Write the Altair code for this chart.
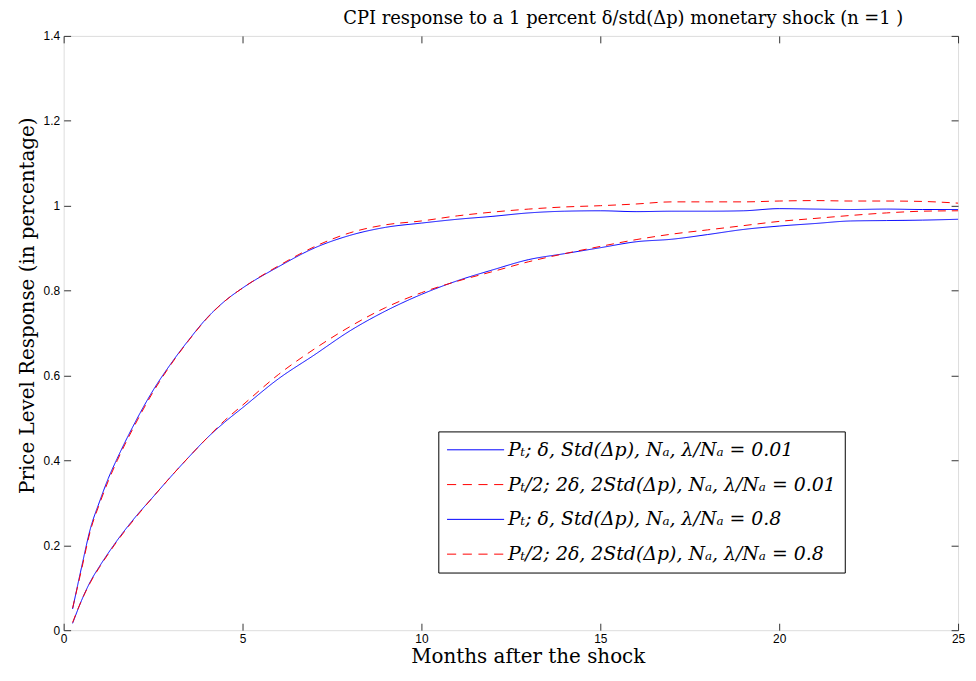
import altair as alt
import pandas as pd

months = [0.25, 0.5, 0.75, 1, 1.25, 1.5, 2, 2.5, 3, 3.5, 4, 4.5, 5, 6, 7, 8, 9, 10,
          11, 12, 13, 14, 15, 16, 17, 18, 19, 20, 21, 22, 23, 24, 25]

# slow-adjusting pair
blue_001 = [0.016, 0.070, 0.115, 0.150, 0.182, 0.212, 0.266, 0.314, 0.362, 0.408, 0.452,
            0.490, 0.524, 0.592, 0.648, 0.705, 0.752, 0.791, 0.823, 0.849, 0.873, 0.887,
            0.901, 0.915, 0.921, 0.932, 0.944, 0.952, 0.958, 0.964, 0.965, 0.966, 0.968]
red_001 = [0.018, 0.070, 0.113, 0.148, 0.180, 0.210, 0.264, 0.314, 0.362, 0.408, 0.452,
           0.494, 0.530, 0.602, 0.662, 0.715, 0.760, 0.795, 0.822, 0.845, 0.868, 0.887,
           0.904, 0.920, 0.933, 0.943, 0.953, 0.963, 0.970, 0.977, 0.983, 0.987, 0.988]
# fast-adjusting pair
blue_08 = [0.050, 0.148, 0.240, 0.302, 0.358, 0.405, 0.490, 0.565, 0.628, 0.684, 0.735,
           0.775, 0.806, 0.856, 0.900, 0.930, 0.949, 0.959, 0.968, 0.975, 0.983, 0.987,
           0.988, 0.986, 0.987, 0.987, 0.988, 0.993, 0.992, 0.991, 0.992, 0.991, 0.991]
red_08 = [0.052, 0.143, 0.235, 0.297, 0.352, 0.400, 0.485, 0.561, 0.626, 0.683, 0.734,
          0.775, 0.806, 0.858, 0.903, 0.936, 0.955, 0.964, 0.976, 0.985, 0.992, 0.997,
          1.000, 1.004, 1.009, 1.009, 1.009, 1.011, 1.012, 1.011, 1.011, 1.010, 1.006]

labels = [
    "Pₜ; δ, Std(Δp), Nₐ, λ/Nₐ = 0.01",
    "Pₜ/2; 2δ, 2Std(Δp), Nₐ, λ/Nₐ = 0.01",
    "Pₜ; δ, Std(Δp), Nₐ, λ/Nₐ = 0.8",
    "Pₜ/2; 2δ, 2Std(Δp), Nₐ, λ/Nₐ = 0.8",
]
series_values = [blue_001, red_001, blue_08, red_08]
colors = ["#0000ff", "#ff0000", "#0000ff", "#ff0000"]
dashes = [[1, 0], [8, 6], [1, 0], [8, 6]]

# legend key glyphs (unit-box paths): solid line and dashed line
solid_key = "M-1,0H1"
dashed_key = "M-1,0H-0.68M-0.45,0H-0.13M0.1,0H0.42M0.65,0H0.97"
legend_keys = [solid_key, dashed_key, solid_key, dashed_key]

x_ticks = [0, 5, 10, 15, 20, 25]
y_ticks = [0, 0.2, 0.4, 0.6, 0.8, 1.0, 1.2, 1.4]

rows = []
for lab, vals in zip(labels, series_values):
    for m, v in zip(months, vals):
        rows.append({"month": m, "value": v, "series": lab})
df = pd.DataFrame(rows)

xscale = alt.Scale(domain=[0, 25], nice=False, zero=False)
yscale = alt.Scale(domain=[0, 1.4], nice=False)
cscale = alt.Scale(domain=labels, range=colors)

serif = "DejaVu Serif"
sans = "Liberation Sans"

main_x = alt.Axis(values=x_ticks, tickSize=0, labelPadding=3, labelFont=sans,
                  labelFontSize=12, labelColor="black", domain=False,
                  grid=False, title="Months after the shock", titleFont=serif,
                  titleFontSize=20, titleFontWeight="normal", titleColor="black",
                  titlePadding=3, titleX=467, labelFlush=False)
main_y = alt.Axis(values=y_ticks, tickSize=0, labelPadding=4, labelFont=sans,
                  labelFontSize=12, labelColor="black", domain=False,
                  grid=False, format="~g", title="Price Level Response (in percentage)",
                  titleFont=serif, titleFontSize=20, titleFontWeight="normal",
                  titleColor="black", titlePadding=6, titleY=271, labelFlush=False)

legend = alt.Legend(title=None, orient="none", legendX=377, legendY=398,
                    symbolSize=3300, symbolStrokeWidth=1, symbolOpacity=1,
                    labelFont=serif, labelFontSize=19, labelFontStyle="italic",
                    labelColor="black", labelLimit=0,
                    labelOffset=3, strokeColor="black", fillColor="white", padding=8,
                    clipHeight=21, rowPadding=14, cornerRadius=0)

lines = alt.Chart(df).mark_line(strokeWidth=1, strokeCap="butt",
                                interpolate="monotone").encode(
    x=alt.X("month:Q", scale=xscale, axis=main_x),
    y=alt.Y("value:Q", scale=yscale, axis=main_y),
    color=alt.Color("series:N", scale=cscale, legend=None, sort=labels),
    strokeDash=alt.StrokeDash("series:N", scale=alt.Scale(domain=labels, range=dashes),
                              legend=None, sort=labels),
)

key_layer = alt.Chart(df).mark_point(opacity=0, filled=False, size=1).encode(
    x=alt.X("month:Q", scale=xscale, axis=None),
    y=alt.Y("value:Q", scale=yscale, axis=None),
    color=alt.Color("series:N", scale=cscale, legend=legend, sort=labels),
    shape=alt.Shape("series:N", scale=alt.Scale(domain=labels, range=legend_keys),
                    legend=legend, sort=labels),
)

TK = 7


def tick_layer(xorient, yorient):
    return alt.Chart(df).mark_point(opacity=0).encode(
        x=alt.X("month:Q", scale=xscale,
                axis=alt.Axis(orient=xorient, offset=-TK, tickSize=TK, labels=False,
                              domain=False, grid=False, title=None, values=x_ticks,
                              tickColor="#333333", tickWidth=1)),
        y=alt.Y("value:Q", scale=yscale,
                axis=alt.Axis(orient=yorient, offset=-TK, tickSize=TK, labels=False,
                              domain=False, grid=False, title=None, values=y_ticks,
                              tickColor="#333333", tickWidth=1)),
    )


chart = alt.layer(
    lines,
    key_layer,
    tick_layer("bottom", "left"),
    tick_layer("top", "right"),
).resolve_axis(x="independent", y="independent").resolve_legend(
    color="independent", shape="independent", strokeDash="independent"
).properties(
    width=900,
    height=598,
    autosize=alt.AutoSizeParams(type="none"),
    padding={"left": 56, "top": 26, "right": 10, "bottom": 38},
    title=alt.TitleParams(
        "CPI response to a 1 percent δ/std(Δp) monetary shock (n =1 )",
        font=serif, fontSize=18, fontWeight="normal", color="black",
        anchor="start", dx=328, offset=2,
    ),
).configure_view(stroke="black", strokeWidth=1.5).configure(background="white")

chart.save("out.html", embed_options={"renderer": "svg", "actions": False})
